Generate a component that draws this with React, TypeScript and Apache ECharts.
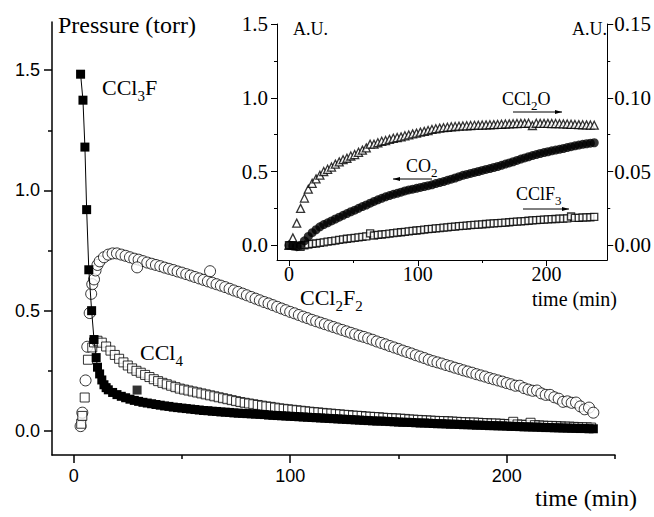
import React, { useEffect, useRef } from "react";
import * as echarts from "echarts";

const SERIF = '"Liberation Serif", "Times New Roman", serif';
const SANS = '"Liberation Sans", Arial, sans-serif';

// ---------- Main plot data (time in min, pressure in torr) ----------
const ccl3fTime = [3.2, 4.3, 5.2, 6.0, 7.0, 8.3, 9.4, 10.4, 11, 12, 13, 14, 15, 16, 18, 20, 22, 24, 26, 28, 30, 32, 34, 36, 38, 40, 42, 44, 46, 48, 50, 52, 54, 56, 58, 60, 62, 64, 66, 68, 70, 72, 74, 76, 78, 80, 82, 84, 86, 88, 90, 92, 94, 96, 98, 100, 102, 104, 106, 108, 110, 112, 114, 116, 118, 120, 122, 124, 126, 128, 130, 132, 134, 136, 138, 140, 142, 144, 146, 148, 150, 152, 154, 156, 158, 160, 162, 164, 166, 168, 170, 172, 174, 176, 178, 180, 182, 184, 186, 188, 190, 192, 194, 196, 198, 200, 202, 204, 206, 208, 210, 212, 214, 216, 218, 220, 222, 224, 226, 228, 230, 232, 234, 236, 238, 240];
const ccl3fValue = [1.483, 1.375, 1.18, 0.92, 0.67, 0.5, 0.38, 0.305, 0.265, 0.237, 0.212, 0.192, 0.18, 0.171, 0.16, 0.151, 0.144, 0.138, 0.132, 0.127, 0.123, 0.119, 0.116, 0.113, 0.11, 0.107, 0.104, 0.102, 0.099, 0.097, 0.095, 0.093, 0.091, 0.089, 0.087, 0.085, 0.084, 0.082, 0.081, 0.079, 0.078, 0.077, 0.075, 0.074, 0.073, 0.072, 0.071, 0.07, 0.069, 0.068, 0.066, 0.065, 0.064, 0.063, 0.062, 0.061, 0.06, 0.059, 0.058, 0.057, 0.056, 0.055, 0.054, 0.053, 0.052, 0.051, 0.05, 0.049, 0.048, 0.047, 0.046, 0.045, 0.044, 0.043, 0.042, 0.041, 0.041, 0.04, 0.039, 0.038, 0.037, 0.036, 0.036, 0.035, 0.034, 0.033, 0.033, 0.032, 0.031, 0.03, 0.03, 0.029, 0.028, 0.028, 0.027, 0.026, 0.026, 0.025, 0.024, 0.024, 0.023, 0.022, 0.022, 0.021, 0.021, 0.02, 0.019, 0.019, 0.018, 0.017, 0.017, 0.016, 0.016, 0.015, 0.014, 0.014, 0.013, 0.013, 0.012, 0.012, 0.011, 0.011, 0.01, 0.01, 0.009, 0.009];
const ccl3fOutlierTime = [29.3];
const ccl3fOutlierValue = [0.17];

const ccl4Time = [3.5, 4.0, 5.1, 6.6, 8.6, 9.4, 11, 13, 15, 17, 19, 21, 23, 25, 27, 29, 31, 33, 35, 37, 39, 41, 43, 45, 47, 49, 51, 53, 55, 57, 59, 61, 63, 65, 67, 69, 71, 73, 75, 77, 79, 81, 83, 85, 87, 89, 91, 93, 95, 97, 99, 101, 103, 105, 107, 109, 111, 113, 115, 117, 119, 121, 123, 125, 127, 129, 131, 133, 135, 137, 139, 141, 143, 145, 147, 149, 151, 153, 155, 157, 159, 161, 163, 165, 167, 169, 171, 173, 175, 177, 179, 181, 183, 185, 187, 189, 191, 193, 195, 197, 199, 201, 203, 205, 207, 209, 211, 213, 215, 217, 219, 221, 223, 225, 227, 229, 231, 233, 235, 237, 239];
const ccl4Value = [0.03, 0.0625, 0.139, 0.296, 0.347, 0.368, 0.375, 0.367, 0.351, 0.334, 0.316, 0.3, 0.285, 0.272, 0.26, 0.25, 0.242, 0.233, 0.224, 0.215, 0.207, 0.2, 0.194, 0.188, 0.182, 0.176, 0.172, 0.168, 0.164, 0.16, 0.156, 0.152, 0.148, 0.144, 0.14, 0.136, 0.132, 0.128, 0.124, 0.12, 0.117, 0.114, 0.111, 0.108, 0.105, 0.102, 0.1, 0.097, 0.094, 0.092, 0.09, 0.088, 0.086, 0.084, 0.082, 0.08, 0.078, 0.077, 0.075, 0.073, 0.072, 0.07, 0.069, 0.067, 0.066, 0.064, 0.063, 0.062, 0.06, 0.059, 0.058, 0.057, 0.055, 0.054, 0.053, 0.052, 0.051, 0.05, 0.048, 0.047, 0.046, 0.045, 0.044, 0.043, 0.042, 0.041, 0.041, 0.04, 0.039, 0.038, 0.037, 0.036, 0.035, 0.035, 0.034, 0.033, 0.032, 0.031, 0.031, 0.03, 0.029, 0.028, 0.038, 0.027, 0.026, 0.025, 0.034, 0.024, 0.023, 0.022, 0.021, 0.021, 0.02, 0.019, 0.018, 0.018, 0.017, 0.016, 0.015, 0.015, 0.014];

const ccl2f2Time = [3.2, 4.0, 5.5, 6.3, 7.4, 8.1, 8.6, 9.4, 10.1, 11, 12, 14, 16, 18, 20, 22, 24, 26, 28, 30, 32, 34, 36, 38, 40, 42, 44, 46, 48, 50, 52, 54, 56, 58, 60, 62, 64, 66, 68, 70, 72, 74, 76, 78, 80, 82, 84, 86, 88, 90, 92, 94, 96, 98, 100, 102, 104, 106, 108, 110, 112, 114, 116, 118, 120, 122, 124, 126, 128, 130, 132, 134, 136, 138, 140, 142, 144, 146, 148, 150, 152, 154, 156, 158, 160, 162, 164, 166, 168, 170, 172, 174, 176, 178, 180, 182, 184, 186, 188, 190, 192, 194, 196, 198, 200, 202, 204, 206, 208, 210, 212, 214, 216, 218, 220, 222, 224, 226, 228, 230, 232, 234, 236, 238, 240];
const ccl2f2Value = [0.02, 0.076, 0.21, 0.35, 0.49, 0.57, 0.61, 0.63, 0.667, 0.69, 0.705, 0.722, 0.733, 0.738, 0.738, 0.733, 0.728, 0.722, 0.716, 0.712, 0.706, 0.7, 0.695, 0.69, 0.685, 0.679, 0.674, 0.669, 0.663, 0.658, 0.652, 0.646, 0.64, 0.634, 0.628, 0.622, 0.616, 0.61, 0.604, 0.598, 0.591, 0.584, 0.578, 0.571, 0.564, 0.557, 0.55, 0.543, 0.536, 0.53, 0.523, 0.516, 0.509, 0.502, 0.495, 0.489, 0.482, 0.475, 0.469, 0.462, 0.456, 0.45, 0.444, 0.438, 0.432, 0.426, 0.42, 0.414, 0.408, 0.402, 0.396, 0.391, 0.385, 0.379, 0.372, 0.366, 0.36, 0.353, 0.347, 0.341, 0.334, 0.328, 0.322, 0.315, 0.309, 0.303, 0.296, 0.29, 0.285, 0.28, 0.274, 0.269, 0.263, 0.258, 0.252, 0.247, 0.242, 0.236, 0.231, 0.226, 0.22, 0.215, 0.21, 0.205, 0.199, 0.194, 0.188, 0.188, 0.178, 0.172, 0.167, 0.168, 0.156, 0.15, 0.15, 0.14, 0.134, 0.121, 0.123, 0.117, 0.118, 0.102, 0.09, 0.097, 0.076];
const ccl2f2OutlierTime = [29.3, 63];
const ccl2f2OutlierValue = [0.68, 0.664];

// ---------- Inset data ----------
const insetTime = [0, 3, 6, 9, 12, 15, 18, 21, 24, 27, 30, 33, 36, 39, 42, 45, 48, 51, 54, 57, 60, 63, 66, 69, 72, 75, 78, 81, 84, 87, 90, 93, 96, 99, 102, 105, 108, 111, 114, 117, 120, 123, 126, 129, 132, 135, 138, 141, 144, 147, 150, 153, 156, 159, 162, 165, 168, 171, 174, 177, 180, 183, 186, 189, 192, 195, 198, 201, 204, 207, 210, 213, 216, 219, 222, 225, 228, 231, 234, 237];
// CO2, left axis (A.U.)
const co2Value = [0, -0.005, -0.01, 0, 0.03, 0.06, 0.085, 0.105, 0.125, 0.14, 0.152, 0.165, 0.178, 0.19, 0.203, 0.215, 0.227, 0.238, 0.25, 0.262, 0.273, 0.285, 0.297, 0.308, 0.318, 0.328, 0.337, 0.345, 0.352, 0.36, 0.368, 0.375, 0.38, 0.386, 0.392, 0.398, 0.404, 0.41, 0.418, 0.425, 0.432, 0.44, 0.448, 0.456, 0.465, 0.474, 0.48, 0.487, 0.494, 0.5, 0.507, 0.514, 0.52, 0.527, 0.534, 0.542, 0.55, 0.558, 0.566, 0.575, 0.584, 0.592, 0.6, 0.608, 0.615, 0.622, 0.628, 0.634, 0.64, 0.645, 0.65, 0.656, 0.662, 0.668, 0.674, 0.679, 0.684, 0.688, 0.692, 0.695];
// CCl2O, right axis (A.U.)
const ccl2oValue = [0, 0.005, 0.015, 0.025, 0.032, 0.038, 0.042, 0.045, 0.0475, 0.05, 0.0515, 0.053, 0.055, 0.0565, 0.058, 0.059, 0.0605, 0.0615, 0.063, 0.0645, 0.066, 0.0685, 0.0685, 0.0695, 0.0705, 0.071, 0.0718, 0.0725, 0.073, 0.0735, 0.0742, 0.0748, 0.0755, 0.076, 0.0767, 0.0772, 0.0778, 0.0785, 0.079, 0.0794, 0.0797, 0.08, 0.0803, 0.0805, 0.0807, 0.0809, 0.081, 0.0812, 0.0813, 0.0814, 0.0815, 0.0816, 0.0817, 0.0818, 0.0819, 0.082, 0.0822, 0.0823, 0.0824, 0.0825, 0.0826, 0.0826, 0.0827, 0.0812, 0.0827, 0.0826, 0.0826, 0.0826, 0.0825, 0.0825, 0.0824, 0.0823, 0.0822, 0.082, 0.0819, 0.0818, 0.0817, 0.0816, 0.0815, 0.0814];
// CClF3, right axis (A.U.)
const cclf3Value = [0, 0, -0.0005, -0.001, 0, 0.0005, 0.001, 0.0012, 0.0016, 0.002, 0.0024, 0.0028, 0.0032, 0.0036, 0.004, 0.0044, 0.0047, 0.005, 0.0054, 0.0057, 0.006, 0.008, 0.0066, 0.007, 0.0073, 0.0076, 0.0079, 0.0082, 0.0085, 0.0088, 0.0091, 0.0094, 0.0097, 0.01, 0.0103, 0.0106, 0.0109, 0.0111, 0.0114, 0.0116, 0.0119, 0.0121, 0.0124, 0.0126, 0.0129, 0.0131, 0.0133, 0.0136, 0.0138, 0.014, 0.0142, 0.0144, 0.0146, 0.0148, 0.015, 0.0152, 0.0154, 0.0156, 0.0158, 0.016, 0.0162, 0.0164, 0.0166, 0.0168, 0.017, 0.0172, 0.0174, 0.0175, 0.0177, 0.0178, 0.018, 0.0181, 0.0182, 0.0195, 0.0185, 0.0186, 0.0188, 0.0189, 0.019, 0.0192];

const mainXMajor = [0, 100, 200];
const mainXMinor = [50, 150, 250];
const mainYMajor = [0, 0.5, 1.0, 1.5];
const mainYMinor = [0.25, 0.75, 1.25];
const insetXMajor = [0, 100, 200];
const insetXMinor = [50, 150];
const insetYLeftMajor = [0, 0.5, 1.0, 1.5];
const insetYLeftMinor = [0.25, 0.75, 1.25];
const insetYRightMajor = [0, 0.05, 0.1, 0.15];
const insetYRightMinor = [0.025, 0.075, 0.125];

const zip = (t: number[], v: number[]) => t.map((x, i) => [x, v[i]]);

function valAxis(o: any) {
  const lw = o.lw ?? 1;
  return {
    type: "value",
    gridIndex: o.grid,
    position: o.position,
    min: o.min,
    max: o.max,
    splitLine: { show: false },
    axisLine: { show: !!o.line, onZero: false, lineStyle: { color: "#000", width: lw } },
    axisTick: { show: true, inside: false, customValues: o.ticks, length: o.len, lineStyle: { color: "#000", width: lw } },
    axisLabel: o.labels
      ? {
          show: true,
          customValues: o.labels,
          margin: o.margin,
          fontFamily: o.font,
          fontSize: o.size,
          color: "#000",
          formatter: (v: number) => (o.digits === 0 ? String(Math.round(v)) : v.toFixed(o.digits)),
        }
      : { show: false },
  };
}

function richLabel(text: string, x: number, y: number, big: number, small: number, pad: number) {
  return {
    type: "text",
    x,
    y,
    style: {
      text,
      fill: "#000",
      align: "left",
      verticalAlign: "top",
      rich: {
        n: { fontFamily: SERIF, fontSize: big, lineHeight: big, verticalAlign: "top", fill: "#000" },
        s: { fontFamily: SERIF, fontSize: small, lineHeight: small, padding: [pad, 0, 0, 0], verticalAlign: "top", fill: "#000" },
      },
    },
  };
}

function plainText(text: string, x: number, y: number, size: number) {
  return {
    type: "text",
    x,
    y,
    style: { text, fill: "#000", fontFamily: SERIF, fontSize: size, align: "left", verticalAlign: "top" },
  };
}

function arrow(x1: number, x2: number, y: number, dir: "left" | "right") {
  const tip = dir === "right" ? x2 : x1;
  const back = dir === "right" ? tip - 7 : tip + 7;
  return [
    { type: "line", shape: { x1, y1: y, x2, y2: y }, style: { stroke: "#000", lineWidth: 1 } },
    { type: "polygon", shape: { points: [[tip, y], [back, y - 2], [back, y + 2]] }, style: { fill: "#000" } },
  ];
}

const openStyle = { color: "#fff", borderColor: "#000", borderWidth: 1 };
const openStyleInset = { color: "#fff", borderColor: "#000", borderWidth: 1.3 };

const option: any = {
  animation: false,
  backgroundColor: "#fff",
  grid: [
    { left: 52, top: 22, width: 563, height: 433 },
    { left: 277, top: 24, width: 332, height: 236 },
  ],
  xAxis: [
    valAxis({ grid: 0, position: "bottom", min: -10, max: 250, line: true, lw: 1.5, ticks: mainXMajor, len: 8, labels: mainXMajor, margin: 12, font: SANS, size: 18, digits: 0 }),
    valAxis({ grid: 0, position: "bottom", min: -10, max: 250, line: false, lw: 1.5, ticks: mainXMinor, len: 4 }),
    valAxis({ grid: 1, position: "bottom", min: -9.3, max: 247.1, line: true, lw: 1, ticks: insetXMajor, len: 6, labels: insetXMajor, margin: 4, font: SERIF, size: 20, digits: 0 }),
    valAxis({ grid: 1, position: "bottom", min: -9.3, max: 247.1, line: false, lw: 1, ticks: insetXMinor, len: 3 }),
  ],
  yAxis: [
    valAxis({ grid: 0, position: "left", min: -0.1, max: 1.7, line: true, lw: 1.5, ticks: mainYMajor, len: 8, labels: mainYMajor, margin: 12, font: SANS, size: 18, digits: 1 }),
    valAxis({ grid: 0, position: "left", min: -0.1, max: 1.7, line: false, lw: 1.5, ticks: mainYMinor, len: 4 }),
    valAxis({ grid: 1, position: "left", min: -0.1, max: 1.5, line: true, lw: 1, ticks: insetYLeftMajor, len: 6, labels: insetYLeftMajor, margin: 9, font: SERIF, size: 21, digits: 1 }),
    valAxis({ grid: 1, position: "left", min: -0.1, max: 1.5, line: false, lw: 1, ticks: insetYLeftMinor, len: 3 }),
    valAxis({ grid: 1, position: "right", min: -0.01, max: 0.15, line: true, lw: 1, ticks: insetYRightMajor, len: 6, labels: insetYRightMajor, margin: 7, font: SERIF, size: 21, digits: 2 }),
    valAxis({ grid: 1, position: "right", min: -0.01, max: 0.15, line: false, lw: 1, ticks: insetYRightMinor, len: 3 }),
  ],
  series: [
    { name: "CCl2F2", type: "scatter", xAxisIndex: 0, yAxisIndex: 0, symbol: "circle", symbolSize: 11, itemStyle: openStyle, data: zip(ccl2f2Time, ccl2f2Value) },
    { name: "CCl2F2 extra", type: "scatter", xAxisIndex: 0, yAxisIndex: 0, symbol: "circle", symbolSize: 11, itemStyle: openStyle, data: zip(ccl2f2OutlierTime, ccl2f2OutlierValue) },
    { name: "CCl4", type: "scatter", xAxisIndex: 0, yAxisIndex: 0, symbol: "rect", symbolSize: 9, itemStyle: openStyle, data: zip(ccl4Time, ccl4Value) },
    {
      name: "CCl3F", type: "line", xAxisIndex: 0, yAxisIndex: 0, symbol: "rect", symbolSize: 9, showSymbol: true, showAllSymbol: true,
      lineStyle: { color: "#000", width: 1 }, itemStyle: { color: "#000" }, data: zip(ccl3fTime, ccl3fValue),
    },
    { name: "CCl3F extra", type: "scatter", xAxisIndex: 0, yAxisIndex: 0, symbol: "rect", symbolSize: 9, itemStyle: { color: "#000" }, data: zip(ccl3fOutlierTime, ccl3fOutlierValue) },
    { name: "CCl2O", type: "scatter", xAxisIndex: 2, yAxisIndex: 4, symbol: "triangle", symbolSize: 8, itemStyle: openStyleInset, data: zip(insetTime, ccl2oValue) },
    { name: "CClF3", type: "scatter", xAxisIndex: 2, yAxisIndex: 4, symbol: "rect", symbolSize: 7, itemStyle: openStyleInset, data: zip(insetTime, cclf3Value) },
    { name: "CO2", type: "scatter", xAxisIndex: 2, yAxisIndex: 2, symbol: "circle", symbolSize: 9, itemStyle: { color: "#000" }, data: zip(insetTime, co2Value) },
  ],
  graphic: [
    plainText("Pressure (torr)", 58, 13, 24),
    plainText("time (min)", 535, 486, 24),
    plainText("A.U.", 293, 20, 18),
    plainText("A.U.", 572, 20, 18),
    plainText("time (min)", 532, 289, 20),
    richLabel("{n|CCl}{s|3}{n|F}", 102, 76, 22, 15, 12),
    richLabel("{n|CCl}{s|2}{n|F}{s|2}", 300, 286, 22, 15, 12),
    richLabel("{n|CCl}{s|4}", 140, 341, 22, 15, 12),
    richLabel("{n|CCl}{s|2}{n|O}", 502, 90, 18, 13, 9),
    richLabel("{n|CO}{s|2}", 406, 157, 18, 13, 9),
    richLabel("{n|CClF}{s|3}", 516, 185, 18, 13, 9),
    ...arrow(513, 562, 112, "right"),
    ...arrow(393, 432, 179, "left"),
    ...arrow(523, 569, 209, "right"),
  ],
};

export default function App() {
  const ref = useRef<HTMLDivElement>(null);
  useEffect(() => {
    const chart = echarts.init(ref.current!, null, { renderer: "svg" });
    chart.setOption(option);
    return () => chart.dispose();
  }, []);
  return (
    <div
      ref={ref}
      style={{ position: "absolute", left: 0, top: 0, width: 654, height: 517, background: "#fff" }}
    />
  );
}
